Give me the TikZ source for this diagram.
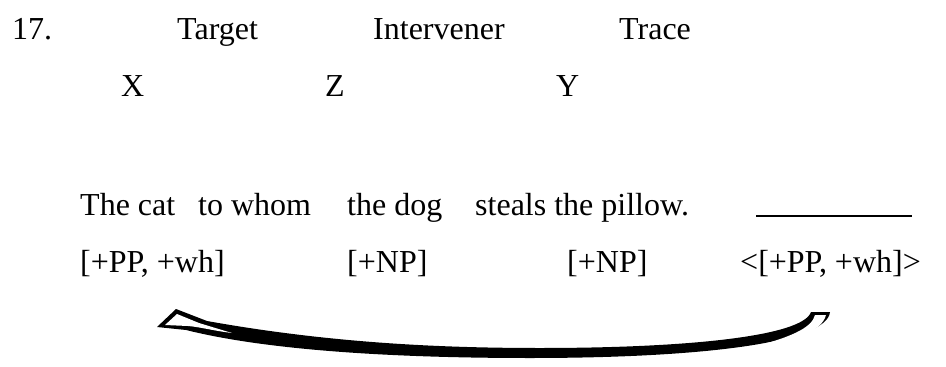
\documentclass[tikz,border=0pt]{standalone}
\usepackage{fontspec}
\setmainfont{LiberationSerif}[Extension=.ttf,UprightFont=*-Regular,BoldFont=*-Bold,ItalicFont=*-Italic,BoldItalicFont=*-BoldItalic]
\begin{document}
\begin{tikzpicture}[x=1pt,y=-1pt,
  txt/.style={anchor=base west,inner sep=0pt,font=\rmfamily\fontsize{32}{38}\selectfont}]
\useasboundingbox[fill=white] (0,0) rectangle (946,367);
% row 1
\node[txt] (n17) at (12,39) {17.};
\node[txt] (target) at (177,39) {Target};
\node[txt] (interv) at (373,39) {Intervener};
\node[txt] (trace) at (619,39) {Trace};
% row 2
\node[txt] (x) at (121,96) {X};
\node[txt] (z) at (325,96) {Z};
\node[txt] (y) at (556,96) {Y};
% row 3
\node[txt] (s1) at (80,215) {The cat};
\node[txt] (s2) at (198,215) {to whom};
\node[txt] (s3) at (347,215) {the dog};
\node[txt] (s4) at (475,215) {steals the pillow.};
\coordinate (ul1) at (756,216);
\coordinate (ul2) at (912,216);
\draw[line width=1.5pt] (ul1) -- (ul2);
% row 4
\node[txt] (f1) at (80,272) {[+PP, +wh]};
\node[txt] (f2) at (347,272) {[+NP]};
\node[txt] (f3) at (567,272) {[+NP]};
\node[txt] (f4) at (740,272) {<[+PP, +wh]>};
% curved arrow: solid band with hollow head and hollow right end
\coordinate (tip) at (157,327);
\coordinate (barb) at (176,309);
\coordinate (inA) at (207,321);
\coordinate (rA) at (811,312);
\coordinate (rB) at (830,312);
\coordinate (headB) at (186,330);
\fill[black] (tip) -- (barb) -- (inA)
  .. controls (330,343) and (440,348) .. (540,348)
  .. controls (690,348) and (803,336) .. (rA)
  -- (rB)
  .. controls (827,343) and (700,358) .. (530,358)
  .. controls (400,358) and (270,351) .. (headB)
  -- cycle;
% hollow interior of the head
\fill[white] (165,325) -- (177,314) -- (199,323)
  .. controls (212,327) and (222,330) .. (232,333)
  .. controls (215,331) and (200,327) .. (188,326) -- cycle;
% hollow interior of the right end
\fill[white] (815,315) -- (826,315)
  .. controls (822,331) and (795,342) .. (745,349)
  .. controls (790,338) and (812,328) .. cycle;
\end{tikzpicture}
\end{document}
